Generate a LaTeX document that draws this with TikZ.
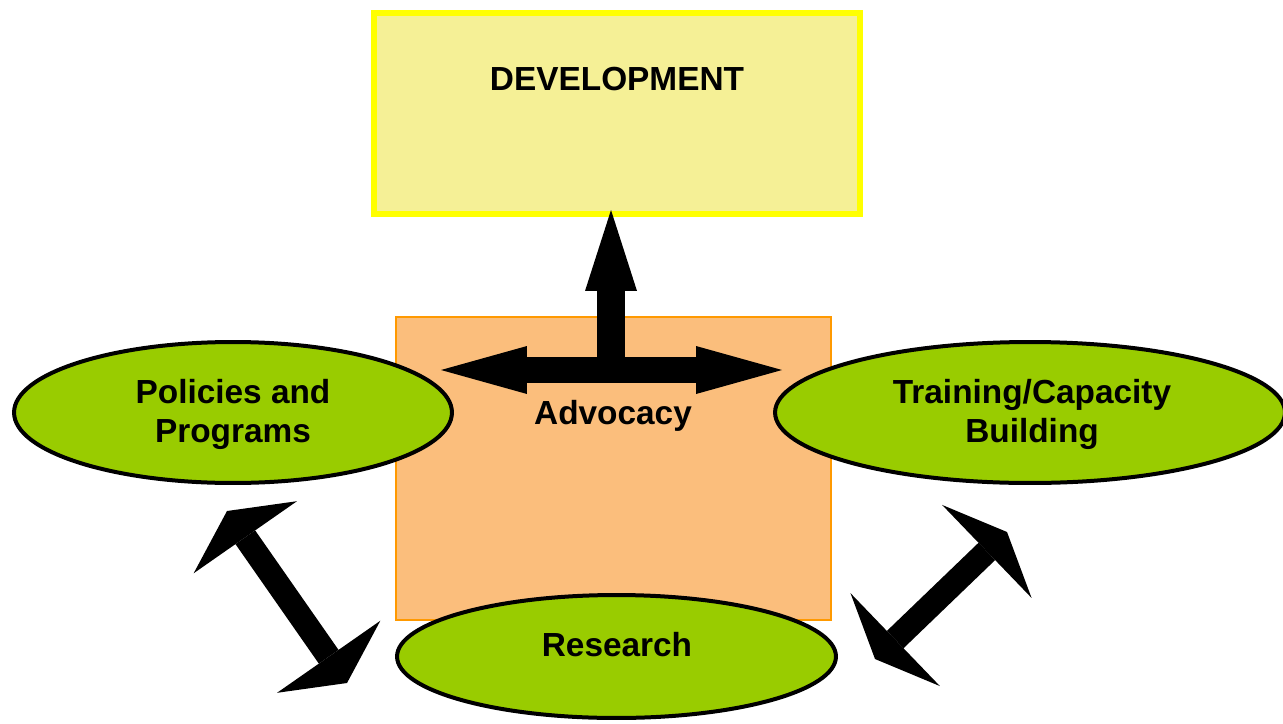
\documentclass[tikz,border=0pt]{standalone}
\usepackage{fontspec}
\setmainfont{Liberation Sans}
\usetikzlibrary{arrows.meta,shapes.geometric}

\definecolor{devfill}{HTML}{F5F096}
\definecolor{devline}{HTML}{FFFF00}
\definecolor{advfill}{HTML}{FBBE7C}
\definecolor{advline}{HTML}{FF9900}
\definecolor{leaf}{HTML}{99CC00}

\tikzset{
  txt/.style={font=\fontsize{19}{22}\selectfont\bfseries, align=center, inner sep=0pt},
  bubble/.style={ellipse, draw=black, line width=0.08cm, fill=leaf, inner sep=0pt},
  uptip/.tip={Triangle[length=1.62cm, width=1.04cm, line width=0pt 0]},
  sidetip/.tip={Triangle[length=1.72cm, width=0.96cm, line width=0pt 0]},
  poltip/.tip={Triangle[length=0.64cm, width=2.52cm, line width=0pt 0]},
  tratip/.tip={Triangle[length=0.56cm, width=2.58cm, line width=0pt 0]}
}

\begin{document}
\begin{tikzpicture}[x=0.02cm, y=-0.02cm]
  \useasboundingbox (0,0) rectangle (1283,723);

  % boxes
  \node[draw=devline, line width=0.12cm, fill=devfill, inner sep=0pt,
        minimum width=9.72cm, minimum height=4.02cm] (devbox) at (617,113.5) {};
  \node[draw=advline, line width=0.04cm, fill=advfill, inner sep=0pt,
        minimum width=8.7cm, minimum height=6.06cm] (advbox) at (613.5,468.5) {};

  % ellipses
  \node[bubble, minimum width=8.76cm, minimum height=2.82cm] (policy) at (233,412.5) {};
  \node[bubble, minimum width=10.2cm, minimum height=2.82cm] (training) at (1030,412.5) {};
  \node[bubble, minimum width=8.78cm, minimum height=2.46cm] (research) at (616.5,656.5) {};

  % texts
  \node[txt, anchor=base] (devtext) at (617,91) {DEVELOPMENT};
  \node[txt, anchor=base] (advtext) at (613,424) {Advocacy};
  \node[txt, anchor=base] (restext) at (617,656) {Research};
  \node[txt] (poltext) at (233,414.5) {Policies and\\Programs};
  \node[txt] (tratext) at (1032,414.5) {Training/Capacity\\Building};

  % arrow ends
  \coordinate (advl) at (441,370);
  \coordinate (advr) at (782,370);
  \coordinate (advc) at (611,370);
  \coordinate (devtip) at (611,210);
  \coordinate (polend) at (227,511);
  \coordinate (resl) at (347,683);
  \coordinate (resr) at (875,659);
  \coordinate (traend) at (1007,532);

  % arrows
  \draw[line width=0.56cm, -uptip] (advc) -- (devtip);
  \draw[line width=0.52cm, sidetip-sidetip] (advl) -- (advr);
  \draw[line width=0.48cm, poltip-poltip] (polend) -- (resl);
  \draw[line width=0.48cm, tratip-tratip] (resr) -- (traend);
\end{tikzpicture}
\end{document}
